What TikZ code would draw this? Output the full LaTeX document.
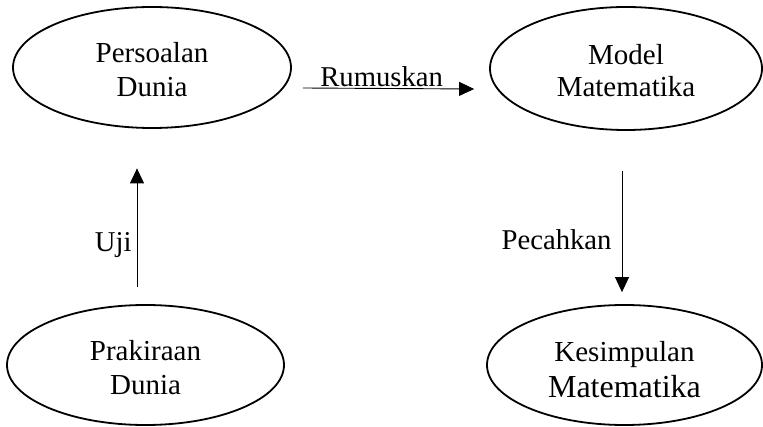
\documentclass[tikz,border=0pt]{standalone}
\usepackage{fontspec}
\setmainfont{Liberation Serif}
\usetikzlibrary{arrows.meta,shapes.geometric}
\begin{document}
\begin{tikzpicture}[x=1pt,y=-1pt,
  ell/.style={draw,ellipse,line width=1.8pt,inner sep=0pt,align=center},
  arr/.style={line width=0.9pt,-{Triangle[length=15pt,width=14pt]}},
  lbl/.style={font=\fontsize{28.7}{34}\selectfont,inner sep=0pt}]
\useasboundingbox (0,0) rectangle (763,427);
\node[ell,minimum width=278pt,minimum height=121pt,text height=59pt,
  font=\fontsize{29}{34}\selectfont] (tl) at (152,67.5) {Persoalan\\Dunia};
\node[ell,minimum width=272pt,minimum height=123pt,text height=57pt,
  font=\fontsize{29}{32}\selectfont] (mm) at (626,68.5) {Model\\Matematika};
\node[ell,minimum width=277pt,minimum height=120pt,text height=60pt,
  font=\fontsize{29}{34}\selectfont] (pl) at (145.5,365) {Prakiraan\\Dunia};
\node[ell,minimum width=275pt,minimum height=120pt,text height=66pt,
  font=\fontsize{29}{36}\selectfont] (ks) at (624.5,365) {Kesimpulan\\{\fontsize{32}{36}\selectfont Matematika}};
\draw[arr] ([xshift=11pt,yshift=-20.5pt]tl.east) -- node[lbl,pos=0.46,anchor=base,yshift=1.5pt] (rum) {Rumuskan} ([xshift=-15pt,yshift=-20.5pt]mm.west);
\draw[arr] ([xshift=-8.5pt,yshift=17pt]pl.north) -- node[lbl,pos=0.3,anchor=base east,xshift=-5pt] (uji) {Uji} ([xshift=-15pt,yshift=-39.5pt]tl.south);
\draw[arr] ([xshift=-4pt,yshift=-40pt]mm.south) -- node[lbl,pos=0.65,anchor=base east,xshift=-10pt] (pec) {Pecahkan} ([xshift=-2.5pt,yshift=12pt]ks.north);
\end{tikzpicture}
\end{document}
